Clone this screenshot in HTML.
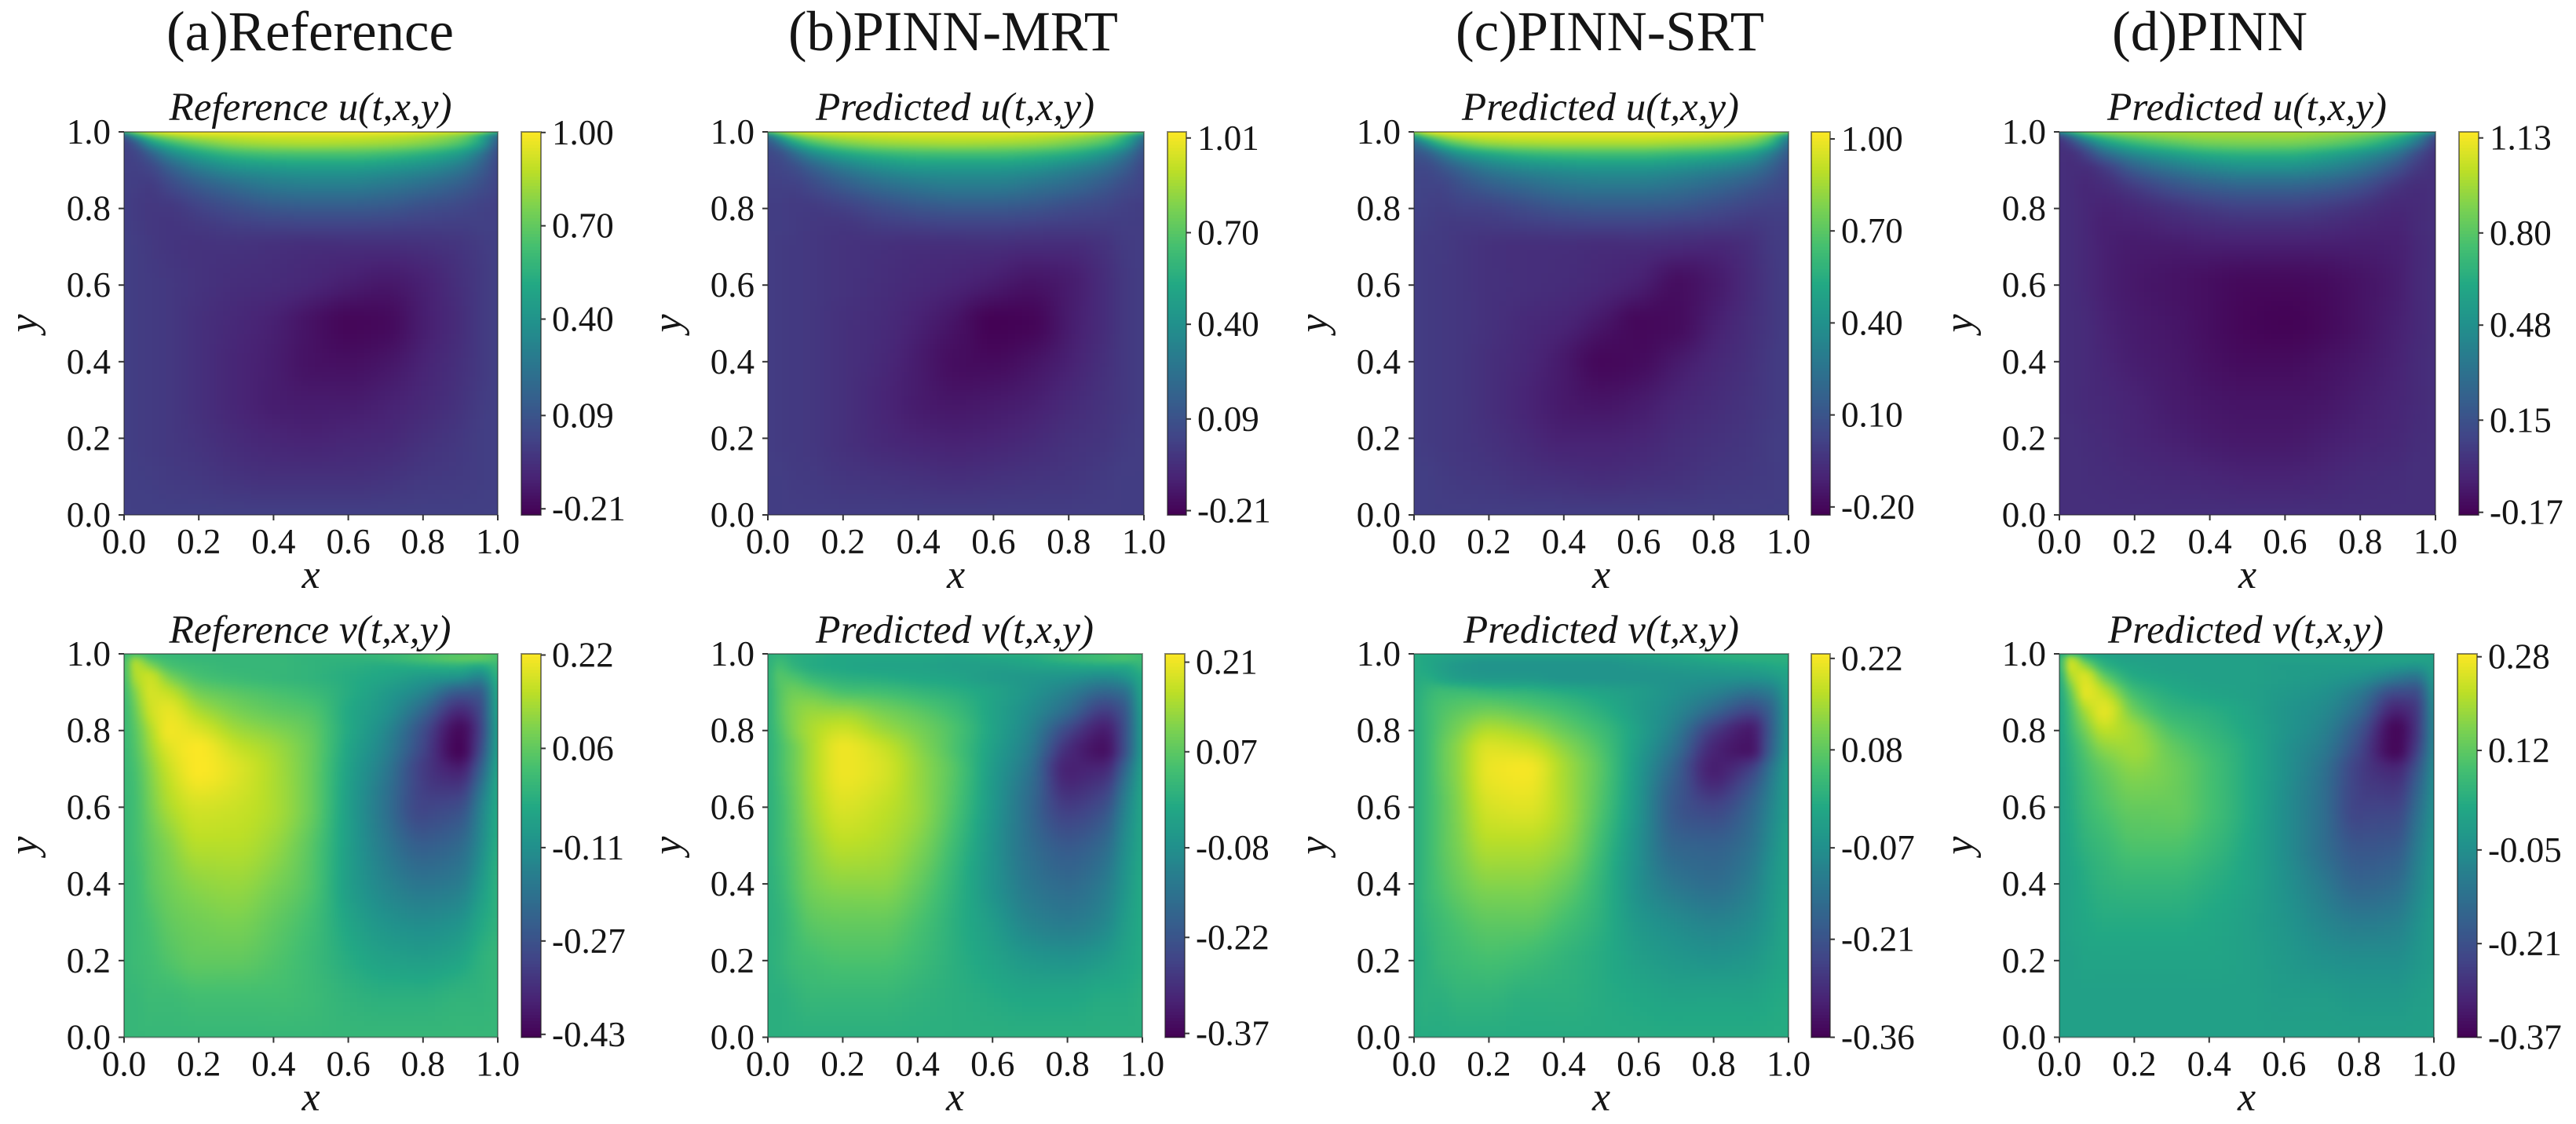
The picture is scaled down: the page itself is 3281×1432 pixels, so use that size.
<!DOCTYPE html>
<html lang="en">
<head>
<meta charset="utf-8">
<title>Lid-driven cavity flow comparison</title>
<style>
html,body{margin:0;padding:0;background:#fff;width:3281px;height:1432px;overflow:hidden}
svg{display:block}
text{font-family:"Liberation Serif","Times New Roman",serif;fill:#151515}
.main{font-size:72px}
.sub{font-size:51px;font-style:italic}
.tick{font-size:45px}
.axis{font-size:52px;font-style:italic}
</style>
</head>
<body>
<svg id="figure" xmlns="http://www.w3.org/2000/svg" width="3281" height="1432" viewBox="0 0 3281 1432">
<defs>
<filter id="soften" x="-5%" y="-5%" width="110%" height="110%" color-interpolation-filters="sRGB"><feGaussianBlur stdDeviation="4 2"/></filter>
</defs>
<rect x="0" y="0" width="3281" height="1432" fill="#fff"/>
<text class="main" x="212" y="64" textLength="366" lengthAdjust="spacingAndGlyphs">(a)Reference</text>
<text class="main" x="1004" y="64" textLength="420" lengthAdjust="spacingAndGlyphs">(b)PINN-MRT</text>
<text class="main" x="1854" y="64" textLength="393" lengthAdjust="spacingAndGlyphs">(c)PINN-SRT</text>
<text class="main" x="2690" y="64" textLength="249" lengthAdjust="spacingAndGlyphs">(d)PINN</text>
<text class="sub" x="215.5" y="153" textLength="360" lengthAdjust="spacingAndGlyphs">Reference u(t,x,y)</text>
<text class="sub" x="1039" y="153" textLength="355" lengthAdjust="spacingAndGlyphs">Predicted u(t,x,y)</text>
<text class="sub" x="1862" y="153" textLength="353" lengthAdjust="spacingAndGlyphs">Predicted u(t,x,y)</text>
<text class="sub" x="2684" y="153" textLength="356" lengthAdjust="spacingAndGlyphs">Predicted u(t,x,y)</text>
<text class="sub" x="215.5" y="819" textLength="359" lengthAdjust="spacingAndGlyphs">Reference v(t,x,y)</text>
<text class="sub" x="1039" y="819" textLength="354" lengthAdjust="spacingAndGlyphs">Predicted v(t,x,y)</text>
<text class="sub" x="1864" y="819" textLength="351" lengthAdjust="spacingAndGlyphs">Predicted v(t,x,y)</text>
<text class="sub" x="2685" y="819" textLength="351" lengthAdjust="spacingAndGlyphs">Predicted v(t,x,y)</text>
</svg>
<script>
const xGrid = [0,.03,.07,.12,.2,.3,.4,.5,.6,.7,.8,.9,.95,1];
const yGrid = [1,.99,.97,.94,.9,.85,.8,.75,.7,.6,.5,.4,.3,.2,.1,0];
const axisTicks = [0,.2,.4,.6,.8,1];

const uReference = [
[.6,.8,.92,.98,1,1,1,1,1,1,.98,.92,.85,.6],
[.1,.45,.7,.82,.89,.91,.92,.92,.92,.9,.86,.76,.57,.2],
[0,.12,.4,.58,.72,.81,.84,.85,.84,.82,.77,.65,.48,.1],
[0,.02,.13,.31,.47,.58,.62,.63,.63,.6,.54,.42,.26,.04],
[0,0,.02,.12,.26,.36,.4,.42,.42,.39,.34,.24,.14,.02],
[0,-.01,-.02,.02,.1,.18,.24,.26,.26,.23,.18,.11,.06,.01],
[0,-.02,-.03,-.03,.01,.06,.1,.115,.115,.1,.06,.03,.01,0],
[0,-.015,-.03,-.04,-.03,-.01,0,.005,.005,0,-.01,-.01,0,0],
[0,-.01,-.025,-.04,-.05,-.05,-.06,-.07,-.07,-.07,-.06,-.04,-.02,0],
[0,-.01,-.02,-.03,-.05,-.07,-.08,-.1,-.13,-.15,-.12,-.06,-.03,0],
[0,-.01,-.02,-.03,-.06,-.09,-.12,-.17,-.21,-.2,-.13,-.07,-.03,0],
[0,-.01,-.02,-.03,-.06,-.1,-.13,-.17,-.18,-.16,-.11,-.06,-.03,0],
[0,-.01,-.02,-.03,-.06,-.1,-.13,-.14,-.14,-.12,-.09,-.05,-.02,0],
[0,-.01,-.02,-.03,-.05,-.08,-.1,-.11,-.1,-.09,-.06,-.03,-.01,0],
[0,-.005,-.01,-.02,-.03,-.05,-.06,-.06,-.06,-.05,-.03,-.02,-.01,0],
[0,0,0,0,0,0,0,0,0,0,0,0,0,0]];

const uMrt = [
[.7,.85,.95,1,1,1,1,1,1,1,1,.95,.88,.7],
[.25,.53,.75,.86,.91,.93,.94,.94,.94,.92,.88,.78,.62,.3],
[.1,.24,.48,.65,.77,.83,.85,.86,.85,.83,.77,.65,.48,.15],
[.04,.07,.19,.35,.49,.58,.62,.63,.63,.6,.54,.4,.26,.07],
[.02,.03,.06,.14,.26,.36,.41,.42,.42,.39,.32,.22,.13,.03],
[.01,.01,.01,.04,.11,.19,.24,.27,.27,.23,.18,.1,.05,.02],
[0,0,-.01,-.01,.01,.06,.1,.12,.12,.1,.06,.03,.01,0],
[0,0,-.01,-.02,-.03,-.01,0,.01,.01,0,-.01,-.01,0,0],
[0,-.01,-.015,-.025,-.04,-.05,-.06,-.06,-.06,-.07,-.07,-.04,-.01,0],
[0,-.01,-.015,-.025,-.04,-.06,-.08,-.1,-.13,-.16,-.13,-.06,-.02,0],
[0,-.01,-.015,-.025,-.05,-.07,-.11,-.16,-.22,-.21,-.13,-.06,-.02,0],
[0,-.01,-.015,-.025,-.05,-.08,-.13,-.18,-.19,-.16,-.11,-.05,-.02,0],
[0,-.01,-.015,-.025,-.05,-.09,-.13,-.15,-.14,-.12,-.08,-.04,-.02,0],
[0,-.01,-.015,-.025,-.05,-.08,-.1,-.11,-.1,-.08,-.05,-.03,-.01,0],
[0,0,-.01,-.015,-.03,-.04,-.05,-.06,-.05,-.04,-.03,-.01,0,0],
[0,0,0,0,0,0,0,0,0,0,0,0,0,0]];

const uSrt = [
[.85,.95,1,1,1,1,1,1,1,1,1,1,.95,.8],
[.5,.72,.85,.92,.94,.95,.95,.95,.95,.94,.92,.87,.75,.4],
[.2,.36,.58,.72,.82,.85,.86,.86,.86,.84,.81,.73,.58,.2],
[.09,.12,.24,.39,.5,.58,.61,.62,.62,.59,.55,.45,.3,.1],
[.04,.04,.08,.16,.27,.34,.38,.4,.4,.37,.32,.24,.15,.05],
[.03,.02,.02,.06,.12,.18,.23,.25,.25,.22,.17,.1,.06,.03],
[.02,.01,0,.01,.02,.06,.1,.115,.115,.1,.06,.02,.01,.01],
[.01,0,-.01,-.02,-.02,-.01,0,.005,.005,-.01,-.02,-.03,-.01,0],
[0,-.01,-.015,-.03,-.05,-.06,-.06,-.07,-.07,-.08,-.09,-.06,-.02,0],
[0,-.01,-.02,-.03,-.05,-.06,-.07,-.09,-.12,-.18,-.14,-.07,-.03,0],
[0,-.01,-.02,-.03,-.05,-.08,-.1,-.15,-.2,-.19,-.12,-.06,-.03,0],
[0,-.01,-.02,-.03,-.06,-.09,-.14,-.2,-.19,-.14,-.09,-.05,-.02,0],
[0,-.01,-.02,-.03,-.06,-.1,-.14,-.16,-.14,-.1,-.07,-.04,-.02,0],
[0,-.01,-.02,-.03,-.05,-.08,-.11,-.11,-.1,-.07,-.05,-.03,-.01,0],
[0,0,-.01,-.02,-.03,-.05,-.06,-.07,-.06,-.05,-.03,-.02,-.01,0],
[0,0,0,0,0,0,0,0,0,0,0,0,0,0]];

const uPinn = [
[.5,.72,.88,.95,.98,.98,.98,.98,.98,.98,.96,.88,.77,.5],
[.1,.33,.62,.78,.88,.93,.95,.95,.95,.92,.86,.7,.5,.15],
[0,.09,.3,.53,.7,.8,.86,.875,.87,.83,.74,.53,.33,.05],
[0,0,.08,.25,.43,.55,.63,.66,.66,.6,.49,.3,.13,.01],
[0,-.01,-.01,.04,.2,.32,.4,.446,.445,.4,.3,.13,.04,0],
[0,-.01,-.03,-.02,.04,.13,.19,.22,.22,.19,.12,.01,-.01,0],
[0,-.01,-.03,-.05,-.03,.01,.05,.074,.074,.05,.01,-.03,-.02,0],
[0,-.01,-.03,-.06,-.06,-.04,-.02,-.01,-.01,-.02,-.04,-.05,-.02,0],
[0,-.01,-.03,-.06,-.08,-.08,-.07,-.07,-.07,-.07,-.07,-.06,-.03,0],
[0,-.01,-.03,-.06,-.09,-.11,-.13,-.15,-.15,-.14,-.11,-.07,-.03,0],
[0,-.01,-.02,-.05,-.08,-.1,-.13,-.16,-.17,-.15,-.11,-.06,-.03,0],
[0,-.01,-.02,-.04,-.07,-.09,-.12,-.14,-.14,-.12,-.09,-.05,-.02,0],
[0,-.01,-.02,-.03,-.05,-.08,-.1,-.11,-.11,-.1,-.07,-.04,-.02,0],
[0,0,-.01,-.02,-.04,-.06,-.08,-.09,-.09,-.07,-.05,-.03,-.01,0],
[0,0,-.005,-.01,-.02,-.03,-.04,-.05,-.05,-.04,-.02,-.01,0,0],
[0,0,0,0,0,0,0,0,0,0,0,0,0,0]];

const vReference = [
[0,.02,.01,0,0,0,0,0,0,0,.02,.03,.05,.03],
[0,.1,.03,.01,0,0,0,-.01,-.01,0,.03,.06,.06,.03],
[0,.15,.1,.03,.01,0,0,-.01,-.02,-.03,-.02,-.01,-.03,.01],
[0,.14,.17,.09,.03,.01,0,-.01,-.03,-.05,-.08,-.1,-.14,-.01],
[0,.1,.18,.16,.08,.05,.03,.01,-.03,-.08,-.14,-.25,-.25,-.03],
[0,.07,.17,.2,.14,.09,.06,.04,-.04,-.1,-.22,-.36,-.3,-.04],
[0,.05,.14,.21,.19,.13,.1,.06,-.04,-.13,-.28,-.42,-.32,-.05],
[0,.04,.12,.19,.22,.17,.13,.07,-.05,-.15,-.3,-.43,-.3,-.05],
[0,.03,.1,.17,.22,.19,.14,.07,-.06,-.17,-.32,-.38,-.25,-.04],
[0,.02,.08,.14,.18,.17,.14,.07,-.07,-.19,-.3,-.28,-.16,-.03],
[0,.02,.06,.1,.15,.15,.12,.05,-.07,-.17,-.24,-.21,-.13,-.02],
[0,.01,.05,.08,.11,.12,.09,.04,-.07,-.14,-.18,-.16,-.09,-.01],
[0,.01,.03,.06,.08,.09,.06,.02,-.05,-.1,-.12,-.1,-.05,-.01],
[0,.01,.02,.04,.06,.06,.04,.01,-.03,-.06,-.07,-.05,-.02,0],
[0,0,.01,.01,.02,.02,.02,.01,-.01,-.02,-.02,-.01,-.01,0],
[0,0,0,0,0,0,0,0,0,0,0,0,0,0]];

const vMrt = [
[0,.01,0,0,-.01,-.01,-.01,-.01,0,0,.01,.03,.04,.03],
[0,.02,0,-.01,-.02,-.02,-.02,-.03,-.02,-.01,.02,.04,.05,.03],
[0,.04,.01,-.01,-.02,-.03,-.03,-.04,-.04,-.03,-.02,-.01,-.01,.02],
[0,.06,.05,.02,0,-.01,-.02,-.03,-.05,-.06,-.07,-.09,-.07,-.01],
[0,.06,.09,.08,.05,.04,.02,0,-.03,-.07,-.12,-.18,-.16,-.02],
[0,.06,.11,.13,.13,.1,.07,.03,-.03,-.09,-.17,-.27,-.22,-.03],
[0,.05,.11,.15,.18,.14,.1,.05,-.03,-.11,-.25,-.33,-.24,-.04],
[0,.04,.09,.15,.21,.18,.12,.05,-.04,-.13,-.3,-.35,-.24,-.04],
[0,.04,.09,.15,.21,.19,.13,.06,-.05,-.15,-.32,-.31,-.19,-.03],
[0,.03,.08,.14,.19,.17,.13,.05,-.06,-.17,-.27,-.23,-.12,-.02],
[0,.03,.07,.12,.16,.15,.11,.03,-.07,-.16,-.21,-.17,-.09,-.02],
[0,.02,.06,.1,.12,.12,.08,.01,-.07,-.14,-.17,-.13,-.07,-.01],
[0,.01,.04,.07,.08,.08,.05,0,-.05,-.11,-.13,-.1,-.05,-.01],
[0,.01,.03,.04,.05,.05,.03,0,-.03,-.06,-.07,-.05,-.03,-.01],
[0,0,.01,.02,.02,.02,.01,0,-.01,-.02,-.02,-.01,-.01,0],
[0,0,0,0,0,0,0,0,0,0,0,0,0,0]];

const vSrt = [
[0,0,-.01,-.02,-.02,-.02,-.02,-.02,-.01,0,.01,.01,.01,.01],
[0,-.01,-.02,-.03,-.04,-.04,-.04,-.04,-.03,-.02,0,.01,.01,.01],
[0,-.01,-.03,-.05,-.06,-.06,-.06,-.06,-.05,-.04,-.03,-.02,-.01,0],
[0,0,-.02,-.04,-.05,-.05,-.06,-.06,-.06,-.06,-.06,-.06,-.05,-.02],
[0,.02,.04,.04,.03,.02,0,-.02,-.04,-.07,-.1,-.14,-.12,-.03],
[0,.03,.06,.08,.1,.08,.05,.01,-.04,-.09,-.17,-.24,-.18,-.04],
[0,.03,.07,.11,.16,.14,.09,.04,-.03,-.12,-.26,-.32,-.2,-.04],
[0,.03,.08,.13,.2,.19,.13,.06,-.04,-.15,-.3,-.33,-.19,-.04],
[0,.03,.08,.13,.21,.22,.15,.07,-.05,-.18,-.31,-.25,-.14,-.03],
[0,.03,.07,.12,.19,.2,.15,.06,-.06,-.2,-.24,-.17,-.1,-.03],
[0,.03,.07,.11,.16,.16,.13,.04,-.07,-.17,-.18,-.14,-.08,-.02],
[0,.03,.06,.09,.12,.12,.09,.02,-.07,-.13,-.15,-.11,-.06,-.02],
[0,.02,.04,.06,.08,.08,.05,.01,-.05,-.08,-.1,-.08,-.05,-.01],
[0,.01,.03,.04,.05,.04,.02,0,-.03,-.05,-.06,-.05,-.03,-.01],
[0,.01,.01,.02,.02,.01,.01,0,-.01,-.02,-.02,-.02,-.01,0],
[0,0,0,0,0,0,0,0,0,0,0,0,0,0]];

const vPinn = [
[0,.05,.02,0,0,0,0,0,0,0,0,0,0,0],
[.02,.2,.07,.02,0,0,0,0,0,0,0,.01,.01,0],
[.02,.24,.17,.05,.01,0,0,0,-.01,-.01,-.01,-.02,-.03,0],
[0,.2,.25,.13,.03,.01,0,0,-.01,-.02,-.04,-.1,-.12,-.01],
[0,.13,.26,.22,.08,.03,.01,0,-.02,-.04,-.1,-.22,-.22,-.03],
[0,.09,.2,.26,.14,.06,.04,.01,-.03,-.06,-.15,-.31,-.27,-.05],
[0,.07,.15,.22,.19,.1,.06,.02,-.03,-.08,-.2,-.36,-.28,-.06],
[0,.05,.11,.17,.19,.13,.08,.03,-.04,-.1,-.23,-.36,-.26,-.06],
[0,.04,.09,.13,.17,.14,.09,.03,-.04,-.12,-.25,-.3,-.21,-.05],
[0,.03,.07,.1,.13,.13,.09,.03,-.05,-.13,-.24,-.24,-.15,-.04],
[0,.02,.05,.07,.1,.1,.07,.02,-.05,-.13,-.2,-.19,-.11,-.03],
[0,.01,.03,.05,.06,.06,.04,.01,-.04,-.1,-.16,-.14,-.08,-.02],
[0,.01,.02,.03,.03,.03,.02,0,-.03,-.07,-.1,-.09,-.05,-.01],
[0,0,.01,.01,.01,.01,.01,0,-.02,-.04,-.05,-.05,-.03,-.01],
[0,0,0,0,0,0,0,0,-.01,-.01,-.02,-.02,-.01,0],
[0,0,0,0,0,0,0,0,0,0,0,0,0,0]];

// Colour-bar tick labels and colour domains, one set per panel.
const ticksUReference = ["1.00","0.70","0.40","0.09","-0.21"];
const ticksUMrt = ["1.01","0.70","0.40","0.09","-0.21"];
const ticksUSrt = ["1.00","0.70","0.40","0.10","-0.20"];
const ticksUPinn = ["1.13","0.80","0.48","0.15","-0.17"];
const ticksVReference = ["0.22","0.06","-0.11","-0.27","-0.43"];
const ticksVMrt = ["0.21","0.07","-0.08","-0.22","-0.37"];
const ticksVSrt = ["0.22","0.08","-0.07","-0.21","-0.36"];
const ticksVPinn = ["0.28","0.12","-0.05","-0.21","-0.37"];
const domainUReference = [-.2296,1.002];
const domainUMrt = [-.224,1.03];
const domainUSrt = [-.226,1.023];
const domainUPinn = [-.179,1.151];
const domainVReference = [-.435,.222];
const domainVMrt = [-.376,.223];
const domainVSrt = [-.36,.227];
const domainVPinn = [-.37,.285];

const panelList = [
 {id:'reference-u',field:uReference,domain:domainUReference,ticks:ticksUReference,box:[158,634,168,656],bar:[664,689]},
 {id:'mrt-u',field:uMrt,domain:domainUMrt,ticks:ticksUMrt,box:[978,1457,168,656],bar:[1487,1511]},
 {id:'srt-u',field:uSrt,domain:domainUSrt,ticks:ticksUSrt,box:[1801,2278,168,656],bar:[2307,2331]},
 {id:'pinn-u',field:uPinn,domain:domainUPinn,ticks:ticksUPinn,box:[2623,3102,168,656],bar:[3132,3157]},
 {id:'reference-v',field:vReference,domain:domainVReference,ticks:ticksVReference,box:[158,634,833,1321.5],bar:[664,689]},
 {id:'mrt-v',field:vMrt,domain:domainVMrt,ticks:ticksVMrt,box:[978,1455,833,1321.5],bar:[1484,1509]},
 {id:'srt-v',field:vSrt,domain:domainVSrt,ticks:ticksVSrt,box:[1801,2278,833,1321.5],bar:[2307,2331]},
 {id:'pinn-v',field:vPinn,domain:domainVPinn,ticks:ticksVPinn,box:[2623,3100,833,1321.5],bar:[3130,3155]}
];

const viridisStops = [[68,1,84],[72,36,117],[65,68,135],[53,95,141],[42,120,142],[33,145,140],[34,168,132],[68,191,112],[122,209,81],[189,223,38],[253,231,37]];

const SVGNS = 'http://www.w3.org/2000/svg';
const figure = document.getElementById('figure');
const yGridAscending = yGrid.map(function (v) { return -v; });

function viridis(t) {
  const c = Math.max(0, Math.min(1, t)) * (viridisStops.length - 1);
  const i = Math.min(viridisStops.length - 2, Math.floor(c));
  const f = c - i, a = viridisStops[i], b = viridisStops[i + 1];
  return 'rgb(' + Math.round(a[0] + (b[0] - a[0]) * f) + ',' + Math.round(a[1] + (b[1] - a[1]) * f) + ',' + Math.round(a[2] + (b[2] - a[2]) * f) + ')';
}
// Shape-preserving cubic through the values read at the grid points.
function slopeAt(xs, ys, k) {
  if (k <= 0) return (ys[1] - ys[0]) / (xs[1] - xs[0]);
  if (k >= xs.length - 1) return (ys[k] - ys[k - 1]) / (xs[k] - xs[k - 1]);
  const a = (ys[k] - ys[k - 1]) / (xs[k] - xs[k - 1]);
  const b = (ys[k + 1] - ys[k]) / (xs[k + 1] - xs[k]);
  if (a * b <= 0) return 0;
  const h0 = xs[k] - xs[k - 1], h1 = xs[k + 1] - xs[k];
  return 3 * (h0 + h1) / ((2 * h1 + h0) / a + (h1 + 2 * h0) / b);
}
function curveAt(xs, ys, x) {
  let i = 0;
  while (i < xs.length - 2 && xs[i + 1] < x) i++;
  const h = xs[i + 1] - xs[i];
  const s = Math.max(0, Math.min(1, (x - xs[i]) / h));
  const m0 = slopeAt(xs, ys, i) * h, m1 = slopeAt(xs, ys, i + 1) * h;
  const s2 = s * s, s3 = s2 * s;
  return (2 * s3 - 3 * s2 + 1) * ys[i] + (s3 - 2 * s2 + s) * m0 + (-2 * s3 + 3 * s2) * ys[i + 1] + (s3 - s2) * m1;
}
function columnAt(field, x) {
  return field.map(function (row) { return curveAt(xGrid, row, x); });
}
function make(tag, attrs, parent) {
  const el = document.createElementNS(SVGNS, tag);
  for (const k in attrs) el.setAttribute(k, attrs[k]);
  parent.appendChild(el);
  return el;
}

panelList.forEach(function (p) {
  const L = p.box[0], R = p.box[1], T = p.box[2], B = p.box[3];
  const W = R - L, H = B - T;
  const xPx = function (v) { return L + v * W; };
  const yPx = function (v) { return B - v * H; };
  const colorT = function (v) { return (v - p.domain[0]) / (p.domain[1] - p.domain[0]); };
  const barY = function (v) { return B - colorT(v) * H; };

  const g = make('g', {}, figure);
  
  

  const clip = make('clipPath', {id: 'clip-' + p.id}, g);
  make('rect', {x: L, y: T, width: W, height: H}, clip);

  const clipGroup = make('g', {'clip-path': 'url(#clip-' + p.id + ')'}, g);
  const cells = make('g', {filter: 'url(#soften)', 'shape-rendering': 'crispEdges'}, clipGroup);
  
  

  const pad = 18, stepX = 9;
  for (let px = L - pad; px < R + pad; px += stepX) {
    const vx = Math.max(0, Math.min(1, (px + stepX / 2 - L) / W));
    const col = columnAt(p.field, vx);
    let py = T - pad;
    while (py < B + pad) {
      const stepY = py < T + 60 ? 2 : 6;
      const vy = Math.max(0, Math.min(1, (B - (py + stepY / 2)) / H));
      const value = curveAt(yGridAscending, col, -vy);
      const cell = make('rect', {x: px, y: py, width: stepX + .5, height: stepY + .5, fill: viridis(colorT(value))}, cells);
      
      
      py += stepY;
    }
  }

  const frame = make('rect', {x: L, y: T, width: W, height: H, fill: 'none', stroke: '#222', 'stroke-opacity': .45, 'stroke-width': 2}, g);
  
  

  axisTicks.forEach(function (t) {
    const label = t.toFixed(1);
    const xt = make('line', {x1: xPx(t), x2: xPx(t), y1: B, y2: B + 7, stroke: '#333', 'stroke-width': 2}, g);
    
    
    const xl = make('text', {class: 'tick', x: xPx(t), y: B + 49, 'text-anchor': 'middle'}, g);
    xl.textContent = label;
    
    
    const yt = make('line', {x1: L - 7, x2: L, y1: yPx(t), y2: yPx(t), stroke: '#333', 'stroke-width': 2}, g);
    
    
    const yl = make('text', {class: 'tick', x: L - 17, y: yPx(t) + 15, 'text-anchor': 'end'}, g);
    yl.textContent = label;
    
    
  });

  const xTitle = make('text', {class: 'axis', x: (L + R) / 2, y: B + 93, 'text-anchor': 'middle'}, g);
  xTitle.textContent = 'x';
  
  
  const yTitle = make('text', {class: 'axis', x: 0, y: 0, 'text-anchor': 'middle', transform: 'translate(' + (L - 111) + ',' + ((T + B) / 2) + ') rotate(-90)'}, g);
  yTitle.textContent = 'y';
  
  

  const bar = make('g', {'shape-rendering': 'crispEdges'}, g);
  
  
  const barSteps = 120;
  for (let s = 0; s < barSteps; s++) {
    const sh = H / barSteps;
    const seg = make('rect', {x: p.bar[0], y: T + s * sh, width: p.bar[1] - p.bar[0], height: sh + .6, fill: viridis(1 - (s + .5) / barSteps)}, bar);
    
    
  }
  const outline = make('rect', {x: p.bar[0], y: T, width: p.bar[1] - p.bar[0], height: H, fill: 'none', stroke: '#222', 'stroke-opacity': .55, 'stroke-width': 2}, g);
  
  

  p.ticks.forEach(function (lab) {
    const yy = barY(parseFloat(lab));
    const tk = make('line', {x1: p.bar[1], x2: p.bar[1] + 6, y1: yy, y2: yy, stroke: '#333', 'stroke-width': 2}, g);
    
    
    const tl = make('text', {class: 'tick', x: p.bar[1] + 14, y: yy + 15}, g);
    tl.textContent = lab;
    
    
  });
});
</script>
</body>
</html>
